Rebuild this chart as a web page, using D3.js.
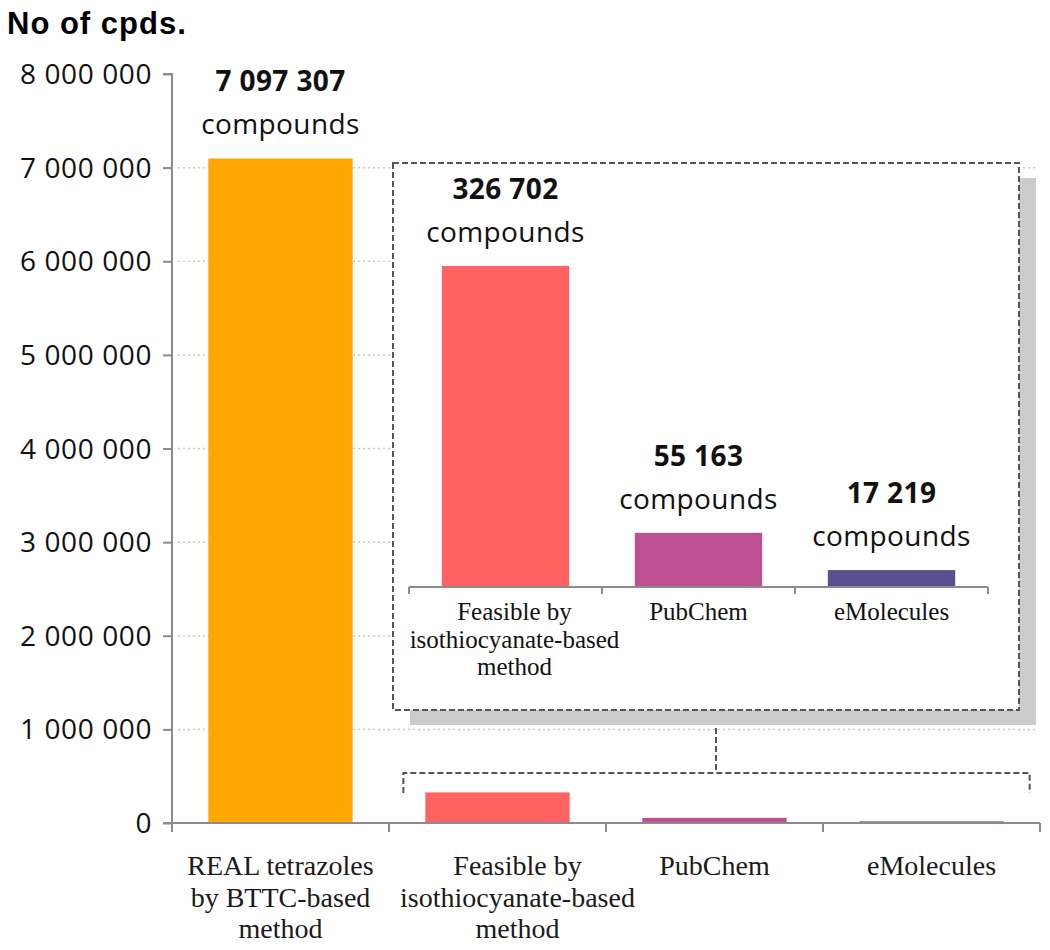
<!DOCTYPE html>
<html>
<head>
<meta charset="utf-8">
<script src="https://cdn.jsdelivr.net/npm/d3@7"></script>
<style>
  html, body { margin: 0; padding: 0; background: #fff; }
  svg { display: block; }
</style>
</head>
<body>
<svg id="chart" width="1050" height="950"></svg>
<script>
// ---- data ----
const categories = ["REAL tetrazoles by BTTC-based method", "Feasible by isothiocyanate-based method", "PubChem", "eMolecules"];
const categoryLines = [["REAL tetrazoles", "by BTTC-based", "method"], ["Feasible by", "isothiocyanate-based", "method"], ["PubChem"], ["eMolecules"]];
const values = [7097307, 326702, 55163, 17219];
const colors = ["#ffa600", "#ff6361", "#bc5090", "#58508d"];
const yTicks = [0, 1000000, 2000000, 3000000, 4000000, 5000000, 6000000, 7000000, 8000000];
const insetCategories = categories.slice(1);
const insetLines = categoryLines.slice(1);
const insetValues = values.slice(1);
const insetColors = colors.slice(1);
const yTitle = "No of cpds.";
const unitLabel = "compounds";

// ---- setup ----
const svg = d3.select("#chart");
const loc = d3.formatLocale({decimal: ".", thousands: " ", grouping: [3], currency: ["", ""]});
const fmt = loc.format(",d");

const x = d3.scaleBand().domain(categories).range([172, 1040]).paddingInner(0.335).paddingOuter(0.1675);
const y = d3.scaleLinear().domain([0, 8000000]).range([823, 74]);

const axisColor = "#8c8c8c";
const labelOffset = {"Feasible by isothiocyanate-based method": 20};

// gridlines
svg.append("g").selectAll("line").data(yTicks.filter(d => d > 0 && d < 8000000)).join("line")
  .attr("x1", 178).attr("x2", 1038)
  .attr("y1", d => y(d)).attr("y2", d => y(d))
  .attr("stroke", "#c8c8c8").attr("stroke-width", 1.5).attr("stroke-dasharray", "2,3");

// main bars
svg.append("g").selectAll("rect").data(values).join("rect")
  .attr("x", (d, i) => x(categories[i]))
  .attr("width", x.bandwidth())
  .attr("y", d => y(d))
  .attr("height", d => y(0) - y(d))
  .attr("fill", (d, i) => colors[i]);

// y axis
const yAxis = svg.append("g").attr("transform", "translate(172,0)")
  .call(d3.axisLeft(y).tickValues(yTicks).tickFormat(d => fmt(d)).tickSize(9).tickPadding(11));
yAxis.select(".domain").attr("stroke", axisColor).attr("stroke-width", 2).attr("d", `M-9,${y(8000000)}H0V${y(0)}`);
yAxis.selectAll(".tick line").attr("stroke", axisColor).attr("stroke-width", 2);
yAxis.selectAll(".tick text").attr("font-family", "'Open Sans', sans-serif").attr("font-size", 28)
  .attr("letter-spacing", 0.6).attr("fill", "#111").attr("dy", "0.34em");

// x axis
const xAxisG = svg.append("g").attr("transform", `translate(0,${y(0)})`);
xAxisG.append("line").attr("x1", 163).attr("x2", 1040).attr("y1", 0).attr("y2", 0).attr("stroke", axisColor).attr("stroke-width", 2);
const xTickPos = categories.map(c => x(c) - x.step() * x.paddingInner() / 2).concat([x(categories[3]) + x.bandwidth() + x.step() * x.paddingInner() / 2]);
xAxisG.selectAll("line.tk").data(xTickPos).join("line").attr("class", "tk")
  .attr("x1", d => d).attr("x2", d => d).attr("y1", 0).attr("y2", 9)
  .attr("stroke", axisColor).attr("stroke-width", 2);

// x category labels
categories.forEach((c, i) => {
  const t = svg.append("text")
    .attr("text-anchor", "middle")
    .attr("font-family", "'Liberation Serif', 'Times New Roman', serif")
    .attr("font-size", 28).attr("fill", "#1a1a1a");
  categoryLines[i].forEach((ln, j) => {
    t.append("tspan").attr("x", x(c) + x.bandwidth() / 2 + (labelOffset[c] || 0)).attr("y", 875 + j * 31.5).text(ln);
  });
});

// main value label (REAL)
const cx0 = x(categories[0]) + x.bandwidth() / 2;
svg.append("text").attr("x", cx0).attr("y", y(values[0]) - 68).attr("text-anchor", "middle")
  .attr("font-family", "'Open Sans', sans-serif").attr("font-weight", "bold").attr("font-size", 28).attr("letter-spacing", 0.4).attr("fill", "#111")
  .text(fmt(values[0]));
svg.append("text").attr("x", cx0).attr("y", y(values[0]) - 25).attr("text-anchor", "middle")
  .attr("font-family", "'Open Sans', sans-serif").attr("font-size", 28).attr("letter-spacing", 0.4).attr("fill", "#111")
  .text(unitLabel);

// title
svg.append("text").attr("x", 7).attr("y", 34)
  .attr("font-family", "'Liberation Sans', Arial, sans-serif").attr("font-weight", "bold").attr("font-size", 31).attr("letter-spacing", 1)
  .attr("fill", "#000")
  .text(yTitle);

// ---- bracket & connector ----
const bx1 = x(categories[1]) - 22, bx2 = x(categories[3]) + x.bandwidth() + 26;
const by = 773;
const dashStyle = g => g.attr("fill", "none").attr("stroke", "#555").attr("stroke-width", 2).attr("stroke-dasharray", "6,3");
svg.append("path").attr("d", `M${bx1},793V${by}H${bx2}V793`).call(dashStyle);
svg.append("path").attr("d", `M716,710V${by}`).call(dashStyle);

// ---- inset ----
const box = {x: 393, y: 163, w: 626, h: 547};
svg.append("rect").attr("x", box.x + 17).attr("y", box.y + 15).attr("width", box.w).attr("height", box.h).attr("fill", "#cccccc");
svg.append("rect").attr("x", box.x).attr("y", box.y).attr("width", box.w).attr("height", box.h).call(dashStyle).attr("fill", "#fff");

const xi = d3.scaleBand().domain(insetCategories).range([409, 988]).paddingInner(0.34).paddingOuter(0.17);
const yi = d3.scaleLinear().domain([0, 400000]).range([587, 194]);

svg.append("g").selectAll("rect").data(insetValues).join("rect")
  .attr("x", (d, i) => xi(insetCategories[i]))
  .attr("width", xi.bandwidth())
  .attr("y", d => yi(d))
  .attr("height", d => yi(0) - yi(d))
  .attr("fill", (d, i) => insetColors[i]);

const iax = svg.append("g");
iax.append("line").attr("x1", 409).attr("x2", 988).attr("y1", yi(0)).attr("y2", yi(0)).attr("stroke", axisColor).attr("stroke-width", 2);
const iTickPos = insetCategories.map(c => xi(c) - xi.step() * xi.paddingInner() / 2).concat([988]);
iax.selectAll("line.tk").data(iTickPos).join("line").attr("class", "tk")
  .attr("x1", d => d).attr("x2", d => d).attr("y1", yi(0)).attr("y2", yi(0) + 7)
  .attr("stroke", axisColor).attr("stroke-width", 2);

const insetLabelOffset = {"Feasible by isothiocyanate-based method": 9};
insetCategories.forEach((c, i) => {
  const t = svg.append("text").attr("text-anchor", "middle")
    .attr("font-family", "'Liberation Serif', 'Times New Roman', serif")
    .attr("font-size", 25).attr("fill", "#111");
  insetLines[i].forEach((ln, j) => {
    t.append("tspan").attr("x", xi(c) + xi.bandwidth() / 2 + (insetLabelOffset[c] || 0)).attr("y", 620 + j * 27.5).text(ln);
  });
  const cx = xi(c) + xi.bandwidth() / 2;
  svg.append("text").attr("x", cx).attr("y", yi(insetValues[i]) - 67).attr("text-anchor", "middle")
    .attr("font-family", "'Open Sans', sans-serif").attr("font-weight", "bold").attr("font-size", 28).attr("letter-spacing", 0.4).attr("fill", "#111")
    .text(fmt(insetValues[i]));
  svg.append("text").attr("x", cx).attr("y", yi(insetValues[i]) - 24).attr("text-anchor", "middle")
    .attr("font-family", "'Open Sans', sans-serif").attr("font-size", 28).attr("letter-spacing", 0.4).attr("fill", "#111")
    .text(unitLabel);
});
</script>
</body>
</html>
